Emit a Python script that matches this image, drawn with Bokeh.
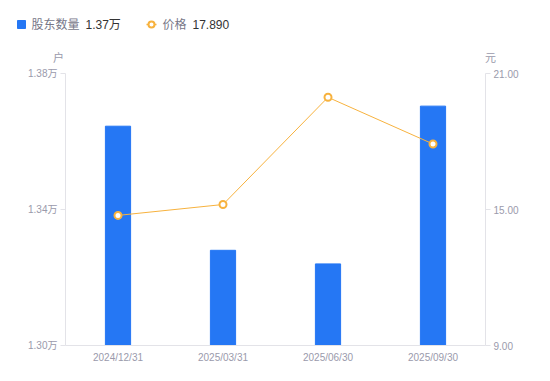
from bokeh.plotting import figure
from bokeh.layouts import column, row
from bokeh.models import (Range1d, LinearAxis, FixedTicker, PrintfTickFormatter,
                          ColumnDataSource)
from bokeh.core.properties import value
from bokeh.embed import file_html
from bokeh.resources import INLINE

dates = ["2024/12/31", "2025/03/31", "2025/06/30", "2025/09/30"]
holders_wan = [1.3645, 1.328, 1.324, 1.3704]
price = [14.74, 15.22, 19.95, 17.89]
left_ticks = [1.30, 1.34, 1.38]
right_ticks = [9.0, 15.0, 21.0]

FONT = "Liberation Sans, Noto Sans CJK SC"
GRAY = "#9a9aab"
LEG = "#777788"
AXIS = "#e3e3e8"
BLUE = "#2577f4"
ORANGE = "#f7b23e"
W = 534

# ---------- header (legend + unit labels) ----------
h = figure(width=W, height=66, x_range=Range1d(0, W), y_range=Range1d(66, 0),
           x_axis_type=None, y_axis_type=None, output_backend="svg",
           toolbar_location=None, min_border=0)
h.outline_line_color = None
h.grid.visible = False
h.scatter(x=[21], y=[24], marker="square", size=8, color=BLUE)
h.segment(x0=[146], y0=[24], x1=[156], y1=[24], line_color=ORANGE, line_width=1.5)
h.scatter(x=[151], y=[24], size=6, fill_color="white", line_color=ORANGE, line_width=2)
h.text(x=[31, 162], y=[24, 24], text=["股东数量", "价格"], text_baseline="middle",
       text_color=LEG, text_font=value(FONT), text_font_size="12px")
h.text(x=[85, 192], y=[24, 24],
       text=[f"{holders_wan[-1]:.2f}万", f"{price[-1]:.3f}"], text_baseline="middle",
       text_color="#333333", text_font=value(FONT), text_font_size="12px")
h.text(x=[58, 490], y=[57, 57], text=["户", "元"], text_align="center",
       text_baseline="middle", text_color=GRAY, text_font=value(FONT),
       text_font_size="11px")

# ---------- main chart ----------
p = figure(width=W, height=299, x_range=dates, y_range=Range1d(1.30, 1.38),
           output_backend="svg", toolbar_location=None,
           min_border_left=65, min_border_right=49, min_border_top=7, min_border_bottom=19)
p.outline_line_color = None
p.grid.visible = False
p.extra_y_ranges = {"price": Range1d(9.0, 21.0)}

src = ColumnDataSource(dict(d=dates, h=holders_wan, p=price))
p.vbar(x="d", top="h", bottom=1.30, width=0.24, color=BLUE, source=src)
p.line(x="d", y="p", y_range_name="price", color=ORANGE, line_width=1, source=src)
p.scatter(x="d", y="p", y_range_name="price", size=7, fill_color="white",
          line_color=ORANGE, line_width=2, source=src)

xa = p.xaxis[0]
xa.axis_line_color = AXIS
xa.major_tick_line_color = None
xa.major_tick_out = 0
xa.major_tick_in = 0
xa.minor_tick_line_color = None
xa.major_label_text_color = GRAY
xa.major_label_text_font = FONT
xa.major_label_text_font_size = "10px"
xa.major_label_standoff = 6

ya = p.yaxis[0]
ya.ticker = FixedTicker(ticks=left_ticks)
ya.formatter = PrintfTickFormatter(format="%.2f万")
ra = LinearAxis(y_range_name="price", ticker=FixedTicker(ticks=right_ticks),
                formatter=PrintfTickFormatter(format="%.2f"))
p.add_layout(ra, "right")
for a in (ya, ra):
    a.axis_line_color = AXIS
    a.major_tick_line_color = AXIS
    a.major_tick_out = 5
    a.major_tick_in = 0
    a.minor_tick_line_color = None
    a.major_label_text_color = GRAY
    a.major_label_text_font = FONT
    a.major_label_text_font_size = "10px"
    a.major_label_standoff = 3

layout = column(row(h), row(p), spacing=0)
open("out.html", "w").write(file_html(layout, INLINE))
